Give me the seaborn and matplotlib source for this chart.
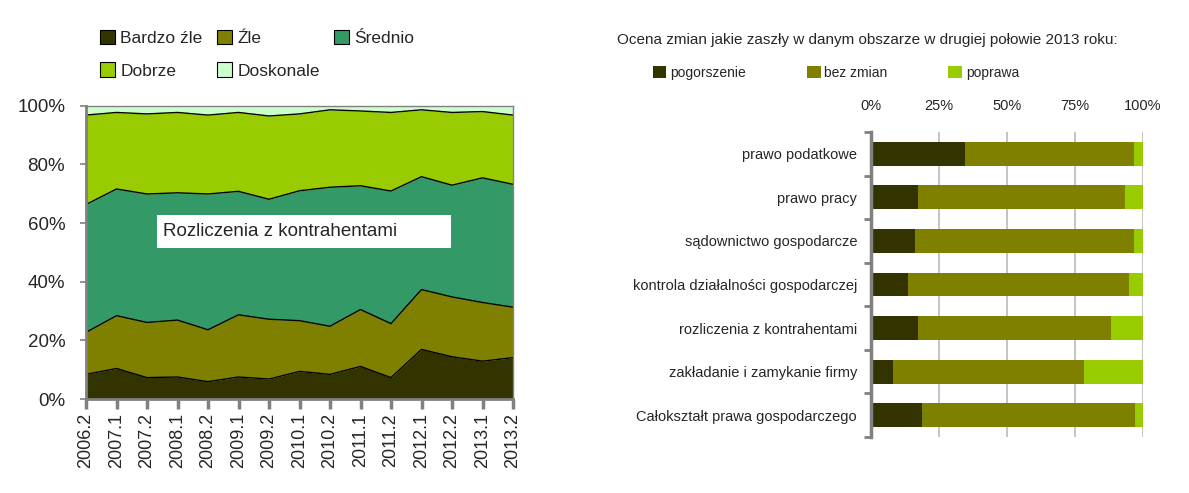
import numpy as np
import pandas as pd
import matplotlib
matplotlib.use("Agg")
import matplotlib.pyplot as plt
import seaborn as sns
from matplotlib.patches import Patch, Rectangle

sns.set_style("white")
plt.rcParams['font.family'] = ['Liberation Sans', 'DejaVu Sans']

# ---------------- data ----------------
periods = ["2006.2", "2007.1", "2007.2", "2008.1", "2008.2", "2009.1", "2009.2",
           "2010.1", "2010.2", "2011.1", "2011.2", "2012.1", "2012.2", "2013.1", "2013.2"]
# cumulative boundaries (percent)
cum_bardzo_zle = [8.4, 10.4, 7.3, 7.5, 5.9, 7.5, 6.8, 9.4, 8.4, 11.1, 7.3, 16.9, 14.4, 12.9, 14.1]
cum_zle = [22.7, 28.4, 26.1, 26.9, 23.6, 28.7, 27.2, 26.7, 24.8, 30.5, 25.7, 37.3, 34.8, 32.9, 31.3]
cum_srednio = [66.3, 71.6, 69.9, 70.3, 69.9, 70.8, 68.1, 71.0, 72.2, 72.7, 70.9, 75.8, 72.9, 75.4, 73.2]
cum_dobrze = [96.8, 97.7, 97.2, 97.7, 96.8, 97.7, 96.5, 97.2, 98.6, 98.2, 97.7, 98.6, 97.7, 98.0, 96.8]
cum_doskonale = [100.0] * 15

area_labels = ["Bardzo źle", "Źle", "Średnio", "Dobrze", "Doskonale"]
area_colors = ["#333300", "#808000", "#339966", "#99CC00", "#CCFFCC"]

bar_categories = ["prawo podatkowe", "prawo pracy", "sądownictwo gospodarcze",
                  "kontrola działalności gospodarczej", "rozliczenia z kontrahentami",
                  "zakładanie i zamykanie firmy", "Całokształt prawa gospodarczego"]
pogorszenie = [34.6, 17.3, 16.2, 13.6, 17.3, 8.1, 18.8]
bez_zmian = [62.2, 76.2, 80.6, 81.4, 71.0, 70.3, 78.4]
poprawa = [3.2, 6.5, 3.2, 5.0, 11.7, 21.6, 2.8]
bar_labels = ["pogorszenie", "bez zmian", "poprawa"]
bar_colors = ["#333300", "#808000", "#99CC00"]
x_ticks_right = [0, 25, 50, 75, 100]

# ---------------- figure ----------------
W, H = 1189, 493
fig = plt.figure(figsize=(W / 100, H / 100), dpi=100)

def ax_rect(x0, y0, x1, y1):
    return [x0 / W, 1 - y1 / H, (x1 - x0) / W, (y1 - y0) / H]

# ---- left: stacked area ----
axL = fig.add_axes(ax_rect(86, 105.7, 513, 399))
x = np.arange(len(periods))
bounds = [np.zeros(len(periods)), np.array(cum_bardzo_zle), np.array(cum_zle),
          np.array(cum_srednio), np.array(cum_dobrze), np.array(cum_doskonale)]
for i in range(5):
    axL.fill_between(x, bounds[i], bounds[i + 1], color=area_colors[i], lw=0)
for i in range(1, 5):
    sns.lineplot(x=x, y=bounds[i], ax=axL, color="black", lw=1.0, legend=False)
axL.set_xlim(0, len(periods) - 1)
axL.set_ylim(0, 100)
axL.set_xticks(x)
axL.set_xticklabels(periods, rotation=90, fontsize=13)
axL.set_yticks([0, 20, 40, 60, 80, 100])
axL.set_yticklabels([f"{v}%" for v in [0, 20, 40, 60, 80, 100]], fontsize=13.5)
for s in ["top", "right"]:
    axL.spines[s].set_color("#808080")
    axL.spines[s].set_linewidth(1.0)
for s in ["left", "bottom"]:
    axL.spines[s].set_color("#808080")
    axL.spines[s].set_linewidth(2.0)
axL.tick_params(axis="x", bottom=True, length=7, width=2.5, color="#808080", direction="out", pad=3)
axL.tick_params(axis="y", left=True, length=4, width=1.2, color="#808080", direction="out", pad=11)
axL.set_xlabel("")
axL.set_ylabel("")
axL.add_patch(Rectangle((0.166, 0.515), 0.689, 0.112, transform=axL.transAxes,
                        facecolor="white", edgecolor="none", zorder=5))
axL.text(0.180, 0.571, "Rozliczenia z kontrahentami", transform=axL.transAxes,
         fontsize=13.5, va="center", ha="left", zorder=6)
handlesL = [Patch(facecolor=c, edgecolor="black", lw=0.8) for c in area_colors]
order = [0, 3, 1, 4, 2]
fig.legend([handlesL[i] for i in order], [area_labels[i] for i in order],
           loc="upper left", bbox_to_anchor=(84 / W, 1 - 14 / H), ncol=3,
           frameon=False, fontsize=12.5, handlelength=0.9,
           handleheight=0.9, handletextpad=0.3, columnspacing=0.8, labelspacing=0.95)

# ---- right: stacked horizontal bars ----
axR = fig.add_axes(ax_rect(871, 132, 1143, 437))
df = pd.DataFrame({"cat": bar_categories, "pogorszenie": pogorszenie,
                   "bez zmian": bez_zmian, "poprawa": poprawa})
df["c1"] = df["pogorszenie"]
df["c2"] = df["c1"] + df["bez zmian"]
df["c3"] = df["c2"] + df["poprawa"]
for col, color in zip(["c3", "c2", "c1"], bar_colors[::-1]):
    sns.barplot(data=df, x=col, y="cat", color=color, orient="h", ax=axR,
                width=0.55, saturation=1, order=bar_categories, lw=0)
axR.set_xlim(0, 100)
axR.set_ylim(len(bar_categories) - 0.5, -0.5)
axR.set_xticks(x_ticks_right)
axR.set_xticklabels([f"{v}%" for v in x_ticks_right], fontsize=10.5)
axR.xaxis.tick_top()
axR.grid(axis="x", color="#BFBFBF", lw=1.3)
axR.set_axisbelow(True)
axR.set_xlabel("")
axR.set_ylabel("")
axR.tick_params(axis="x", length=0, pad=14)
axR.set_yticks(np.arange(-0.5, len(bar_categories), 1), minor=True)
axR.tick_params(axis="y", which="major", length=0, pad=10, labelsize=10.5)
axR.tick_params(axis="y", which="minor", left=True, length=5, width=2, color="#808080")
for s in ["top", "right", "bottom"]:
    axR.spines[s].set_visible(False)
axR.spines["left"].set_color("#808080")
axR.spines["left"].set_linewidth(2.5)

fig.text(617 / W, 1 - 40 / H, "Ocena zmian jakie zaszły w danym obszarze w drugiej połowie 2013 roku:",
         fontsize=10.95, va="center", ha="left")
handlesR = [Patch(facecolor=c, edgecolor="none") for c in bar_colors]
fig.legend(handlesR, bar_labels, loc="center left", bbox_to_anchor=(640 / W, 1 - 73 / H),
           ncol=3, frameon=False, fontsize=10, handlelength=1.0,
           handleheight=1.0, handletextpad=0.25, columnspacing=4.4)

fig.savefig("out.png", dpi=100)
